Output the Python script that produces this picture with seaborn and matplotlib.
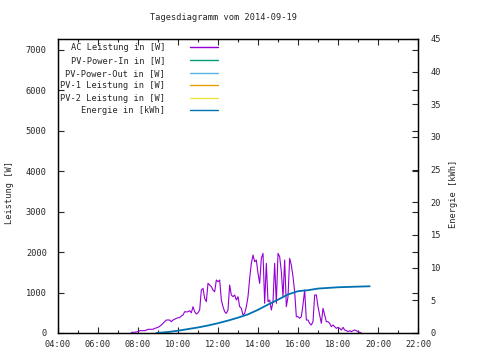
import matplotlib
matplotlib.use("Agg")
import matplotlib.pyplot as plt
import seaborn as sns
from matplotlib.ticker import MultipleLocator, FuncFormatter

# AC power in W, one reading every 5 minutes starting 07:40
ac_start = "07:40"
ac_step_min = 5
ac_watts = [
    16, 16, 20, 25,                                                  # 07:40
    33, 58, 58, 58, 58, 70, 91, 91, 91, 91, 115, 125,                # 08:00
    140, 165, 198, 240, 280, 321, 321, 321, 280, 321, 340, 363,      # 09:00
    375, 383, 420, 445, 527, 520, 527, 552, 500, 650, 527, 470,      # 10:00
    500, 570, 1063, 1105, 858, 775, 1230, 1187, 1146, 1063, 1022, 1311,  # 11:00
    1270, 1311, 816, 650, 527, 486, 570, 1187, 940, 898, 940, 816,   # 12:00
    898, 651, 610, 445, 486, 651, 898, 1352, 1723, 1929, 1764, 1805,  # 13:00
    1476, 1228, 1846, 1970, 734, 1723, 775, 816, 569, 775, 1723, 734,  # 14:00
    1970, 1888, 1517, 898, 1805, 651, 898, 1846, 1682, 1393, 1022, 404,  # 15:00
    404, 363, 404, 700, 1063, 321, 321, 239, 198, 280, 940, 940,     # 16:00
    651, 445, 239, 610, 445, 280, 280, 239, 157, 198, 157, 115,      # 17:00
    140, 115, 74, 140, 74, 58, 33, 58, 33, 58, 74, 58,               # 18:00
    33, 16, 0,                                                       # 19:00
]

# daily energy counter in kWh
energy_times = ["08:55", "09:30", "10:00", "10:30", "11:00", "11:30", "12:00",
                "12:30", "13:00", "13:30", "14:00", "14:30", "15:00", "15:30",
                "16:00", "16:30", "17:00", "17:30", "18:00", "18:30", "19:00",
                "19:35"]
energy_kwh = [0.0, 0.15, 0.35, 0.6, 0.85, 1.15, 1.5,
              1.9, 2.35, 2.85, 3.55, 4.35, 5.1, 5.9,
              6.4, 6.55, 6.8, 6.9, 7.0, 7.05, 7.1,
              7.15]

labels = ["AC Leistung in [W]", "PV-Power-In in [W]", "PV-Power-Out in [W]",
          "PV-1 Leistung in [W]", "PV-2 Leistung in [W]", "Energie in [kWh]"]
colors = ["#9400d3", "#009e73", "#56b4e9", "#e69f00", "#f0e442", "#0072b2"]

x_ticks = [4, 6, 8, 10, 12, 14, 16, 18, 20, 22]


def to_hours(t):
    h, m = t.split(":")
    return int(h) + int(m) / 60


start = to_hours(ac_start)
ac_hours = [start + i * ac_step_min / 60 for i in range(len(ac_watts))]
energy_hours = [to_hours(t) for t in energy_times]

sns.set_style("ticks")
plt.rcParams["font.family"] = ["DejaVu Sans Mono"]
fs = 6.2

fig = plt.figure(figsize=(4.8, 3.6), dpi=100)
ax = fig.add_axes([58 / 480, 27 / 360, 360 / 480, 294 / 360])
ax2 = ax.twinx()

sns.lineplot(x=ac_hours, y=ac_watts, ax=ax, color=colors[0], lw=0.8, legend=False)
sns.lineplot(x=energy_hours, y=energy_kwh, ax=ax2, color=colors[5], lw=1.3, legend=False)

# legend handles (the PV series carry no data on this day)
handles = []
for lab, col in zip(labels, colors):
    h, = ax2.plot([], [], color=col, lw=1.0, label=lab)
    handles.append(h)

ax.set_xlim(4, 22)
ax.set_ylim(0, 7272)
ax2.set_ylim(0, 45)

ax.set_xticks(x_ticks)
ax.xaxis.set_minor_locator(MultipleLocator(1))
ax.xaxis.set_major_formatter(FuncFormatter(lambda v, p: "%02d:00" % int(round(v))))
ax.yaxis.set_major_locator(MultipleLocator(1000))
ax2.yaxis.set_major_locator(MultipleLocator(5))
ax.set_xlabel("")
ax.set_ylabel("")
ax2.set_ylabel("")

ax.tick_params(axis="x", which="both", direction="in", top=True, labelsize=fs, pad=5)
ax.tick_params(axis="x", which="major", length=4, width=0.8)
ax.tick_params(axis="x", which="minor", length=2.5, width=0.8)
ax.tick_params(axis="y", direction="in", right=True, length=4, width=0.8,
               labelsize=fs, pad=8)
ax2.tick_params(axis="y", direction="in", length=4, width=0.8, labelsize=fs, pad=9)

for a in (ax, ax2):
    for s in a.spines.values():
        s.set_color("black")
        s.set_linewidth(0.9)

fig.text(223 / 480, 1 - 18 / 360, "Tagesdiagramm vom 2014-09-19", ha="center",
         va="center", fontsize=fs)
fig.text(10 / 480, 1 - 192 / 360, "Leistung [W]", rotation=90, ha="center",
         va="center", fontsize=fs)
fig.text(453 / 480, 1 - 194 / 360, "Energie [kWh]", rotation=90, ha="center",
         va="center", fontsize=fs)

ax2.legend(handles=handles, loc="upper left", bbox_to_anchor=(0.006, 0.985),
           frameon=False, markerfirst=False, fontsize=fs, borderpad=0,
           borderaxespad=0, handlelength=3.2, handletextpad=2.9, labelspacing=0.42)

fig.savefig("out.png", dpi=100)
